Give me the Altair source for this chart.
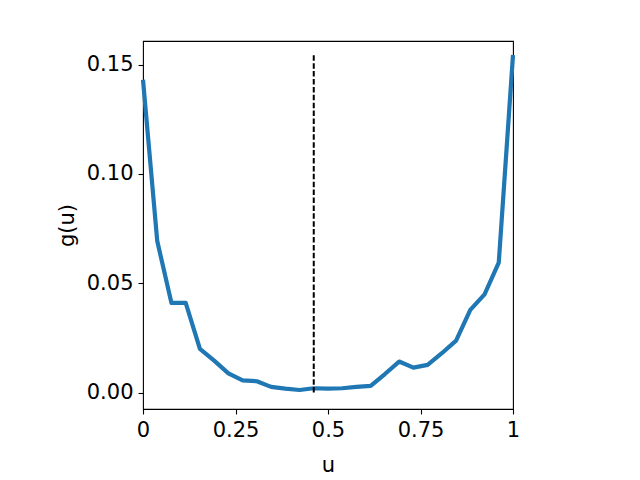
import altair as alt
import pandas as pd

u_vals = [0.0, 0.0385, 0.0769, 0.1154, 0.1538, 0.1923, 0.2308, 0.2692, 0.3077,
          0.3462, 0.3846, 0.4231, 0.4615, 0.5, 0.5385, 0.5769, 0.6154, 0.6538,
          0.6923, 0.7308, 0.7692, 0.8077, 0.8462, 0.8846, 0.9231, 0.9615, 1.0]
g_vals = [0.1431, 0.0693, 0.0410, 0.0410, 0.0200, 0.0146, 0.0088, 0.0056, 0.0052,
          0.0026, 0.0018, 0.0012, 0.0020, 0.0018, 0.0020, 0.0026, 0.0031, 0.0085,
          0.0142, 0.0114, 0.0127, 0.0180, 0.0238, 0.0378, 0.0449, 0.0594, 0.1544]
median_u = [0.4615]
rule_bottom = [0.0]
rule_top = [0.1544]

x_ticks = [0, 0.25, 0.5, 0.75, 1]
y_ticks = [0, 0.05, 0.10, 0.15]

df = pd.DataFrame({"u": u_vals, "g": g_vals})
rule_df = pd.DataFrame({"u": median_u, "y0": rule_bottom, "y1": rule_top})

FONT = "DejaVu Sans"
FS = 21

x_scale = alt.Scale(domain=[0, 1], nice=False, zero=False)
y_scale = alt.Scale(domain=[-0.0075, 0.1608], nice=False, zero=False)

line = alt.Chart(df).mark_line(color="#1f77b4", strokeWidth=4.2, strokeJoin="round").encode(
    x=alt.X("u:Q", scale=x_scale,
            axis=alt.Axis(title="u", values=x_ticks, format=".2~f", labelFlush=False,
                          titleX=185, titleY=62, titleBaseline="alphabetic",
                          titleAnchor="middle")),
    y=alt.Y("g:Q", scale=y_scale,
            axis=alt.Axis(title="g(u)", values=y_ticks, format=".2f", labelFlush=False,
                          titleX=-76, titleY=184, titleBaseline="middle",
                          titleAngle=-90)),
)

rule = alt.Chart(rule_df).mark_rule(color="black", strokeWidth=2, strokeDash=[5.5, 2.4]).encode(
    x=alt.X("u:Q", scale=x_scale),
    y=alt.Y("y0:Q", scale=y_scale),
    y2="y1:Q",
)

chart = (line + rule).properties(
    width=370,
    height=368,
    autosize=alt.AutoSizeParams(type="none"),
    padding={"left": 135, "top": 33, "right": 110, "bottom": 70},
).configure_view(
    stroke="black", strokeWidth=1.1
).configure_axis(
    domain=False, grid=False,
    ticks=True, tickColor="black", tickWidth=1.1, tickSize=5,
    labelFont=FONT, labelFontSize=FS, labelColor="black", labelPadding=5,
    titleFont=FONT, titleFontSize=FS, titleColor="black", titleFontWeight="normal",
)

chart.save("out.html", embed_options={"renderer": "svg", "actions": False})
